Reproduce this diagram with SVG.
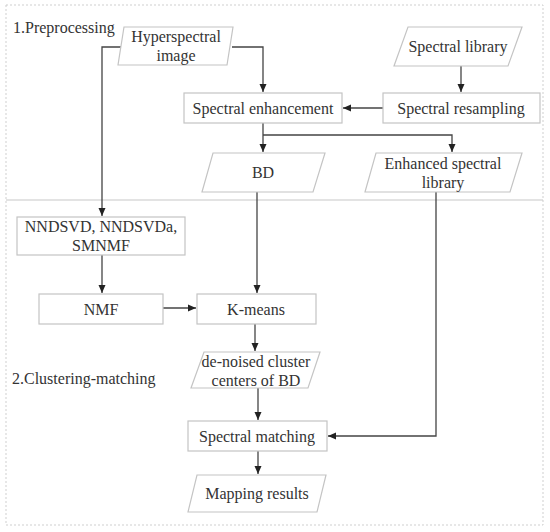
<svg xmlns="http://www.w3.org/2000/svg" width="550" height="532" viewBox="0 0 550 532">
<style>
.node{fill:#fff;stroke:#c4c4c4;stroke-width:1.2}
.t{font-family:"Liberation Serif","Times New Roman",serif;font-size:16px;fill:#333;text-anchor:middle}
.lbl{font-family:"Liberation Serif","Times New Roman",serif;font-size:16px;fill:#333}
.c{fill:none;stroke:#444;stroke-width:1.3}
</style>
<defs>
<marker id="ah" markerWidth="10" markerHeight="10" refX="9" refY="5" orient="auto" markerUnits="userSpaceOnUse">
<path d="M1,1.5 L9,5 L1,8.5 Z" fill="#222"/>
</marker>
</defs>
<rect x="0" y="0" width="550" height="532" fill="#fff"/>
<g id="frame">
<rect x="6" y="5" width="537" height="520" fill="none" stroke="#cfcfcf" stroke-width="1" stroke-dasharray="2,2"/>
<line x1="6" y1="200" x2="543" y2="200" stroke="#c8c8c8" stroke-width="1.2"/>
<text class="lbl" x="13" y="33">1.Preprocessing</text>
<text class="lbl" x="12" y="384">2.Clustering-matching</text>
</g>
<g id="connectors">
<polyline class="c" points="124,47 102,47 102,216" marker-end="url(#ah)"/>
<polyline class="c" points="232,47 263,47 263,92" marker-end="url(#ah)"/>
<line class="c" x1="461" y1="66" x2="461" y2="92" marker-end="url(#ah)"/>
<line class="c" x1="383" y1="108" x2="343" y2="108" marker-end="url(#ah)"/>
<line class="c" x1="263" y1="123" x2="263" y2="152" marker-end="url(#ah)"/>
<polyline class="c" points="263,135 452,135 452,152" marker-end="url(#ah)"/>
<line class="c" x1="257" y1="192" x2="257" y2="293" marker-end="url(#ah)"/>
<line class="c" x1="102" y1="255" x2="102" y2="293" marker-end="url(#ah)"/>
<line class="c" x1="163" y1="308" x2="196" y2="308" marker-end="url(#ah)"/>
<line class="c" x1="255" y1="324" x2="255" y2="351" marker-end="url(#ah)"/>
<line class="c" x1="258" y1="388" x2="258" y2="420" marker-end="url(#ah)"/>
<polyline class="c" points="436,192 436,436 328,436" marker-end="url(#ah)"/>
<line class="c" x1="258" y1="451" x2="258" y2="474" marker-end="url(#ah)"/>
</g>
<g id="hyperspectral">
<polygon class="node" points="124,27 233,27 227,65 118,65"/>
<text class="t" x="176" y="42">Hyperspectral</text>
<text class="t" x="176" y="61">image</text>
</g>
<g id="spectral-library">
<polygon class="node" points="408,27 522,27 508,66 394,66"/>
<text class="t" x="458" y="52">Spectral library</text>
</g>
<g id="spectral-enhancement">
<rect class="node" x="184" y="93" width="158" height="30"/>
<text class="t" x="263" y="114">Spectral enhancement</text>
</g>
<g id="spectral-resampling">
<rect class="node" x="383" y="93" width="157" height="30"/>
<text class="t" x="461" y="114">Spectral resampling</text>
</g>
<g id="bd">
<polygon class="node" points="213,153 325,153 313,192 202,192"/>
<text class="t" x="263" y="178">BD</text>
</g>
<g id="enhanced-library">
<polygon class="node" points="376,153 522,153 510,192 365,192"/>
<text class="t" x="443" y="169">Enhanced spectral</text>
<text class="t" x="443" y="188">library</text>
</g>
<g id="nndsvd">
<rect class="node" x="17" y="217" width="168" height="38"/>
<text class="t" x="101" y="232">NNDSVD, NNDSVDa,</text>
<text class="t" x="101" y="251">SMNMF</text>
</g>
<g id="nmf">
<rect class="node" x="39" y="294" width="124" height="30"/>
<text class="t" x="101" y="315">NMF</text>
</g>
<g id="kmeans">
<rect class="node" x="197" y="294" width="119" height="30"/>
<text class="t" x="256" y="315">K-means</text>
</g>
<g id="denoised">
<polygon class="node" points="204,352 320,352 308,388 191,388"/>
<text class="t" x="256" y="367">de-noised cluster</text>
<text class="t" x="256" y="386">centers of BD</text>
</g>
<g id="spectral-matching">
<rect class="node" x="188" y="421" width="139" height="30"/>
<text class="t" x="257" y="442">Spectral matching</text>
</g>
<g id="mapping">
<polygon class="node" points="197,475 326,475 317,512 188,512"/>
<text class="t" x="257" y="499">Mapping results</text>
</g>
</svg>
